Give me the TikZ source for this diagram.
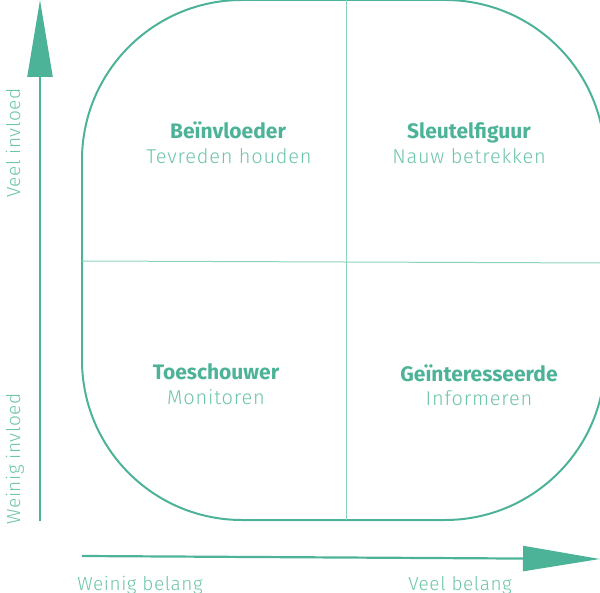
\documentclass[tikz,border=0pt]{standalone}
\usepackage{fontspec}
\setmainfont{Fira Sans}
\newfontfamily\lightfont{Fira Sans Light}
\usetikzlibrary{arrows.meta}

\definecolor{mintdark}{RGB}{77,179,152}
\definecolor{mintlight}{RGB}{108,196,171}
\definecolor{mintline}{RGB}{140,211,190}

\begin{document}
\begin{tikzpicture}[x=1pt, y=-1pt,
    rolename/.style={anchor=base, font=\fontsize{21}{24}\selectfont\bfseries, text=mintdark, inner sep=0pt},
    roletask/.style={anchor=base, font=\fontsize{20}{24}\selectfont\lightfont\addfontfeatures{LetterSpace=4}, text=mintlight, inner sep=0pt},
    axislabel/.style={anchor=base, font=\fontsize{19}{22}\selectfont\lightfont\addfontfeatures{LetterSpace=3}, text=mintlight, inner sep=0pt},
    axis/.style={draw=mintdark, line width=2.2pt, -{Triangle[length=77pt, width=25pt]}, fill=mintdark}]
    \useasboundingbox (0,0) rectangle (600,593);

    % Stadium shaped matrix with its dividers
    \draw[mintdark, line width=2pt, rounded corners=160pt] (82,0) rectangle (605,520);
    \draw[mintline, line width=1pt] (346,0) -- (346,520);
    \draw[mintline, line width=1pt] (82,261) -- (605,263);

    % Quadrant labels
    \node[rolename] (beinv) at (228,139) {Beïnvloeder};
    \node[roletask] (tevreden) at (229,164) {Tevreden houden};
    \node[rolename] (sleutel) at (469,139) {Sleutelfiguur};
    \node[roletask] (nauw) at (469,164) {Nauw betrekken};
    \node[rolename] (toesch) at (216,380) {Toeschouwer};
    \node[roletask] (monitor) at (216,405) {Monitoren};
    \node[rolename] (geint) at (479,382) {Geïnteresseerde};
    \node[roletask] (inform) at (479,406) {Informeren};

    % Axes
    \coordinate (yfoot) at (40,521);
    \coordinate (ytip) at (40,0);
    \coordinate (xfoot) at (82,556);
    \coordinate (xtip) at (600,559);
    \draw[axis] (yfoot) -- (ytip);
    \draw[axis] (xfoot) -- (xtip);

    % Axis labels
    \node[axislabel, rotate=90] (veelinv) at (20,143) {Veel invloed};
    \node[axislabel, rotate=90] (weiniginv) at (20,459) {Weinig invloed};
    \node[axislabel] (weinigbel) at (140,590) {Weinig belang};
    \node[axislabel] (veelbel) at (460,590) {Veel belang};
\end{tikzpicture}
\end{document}
